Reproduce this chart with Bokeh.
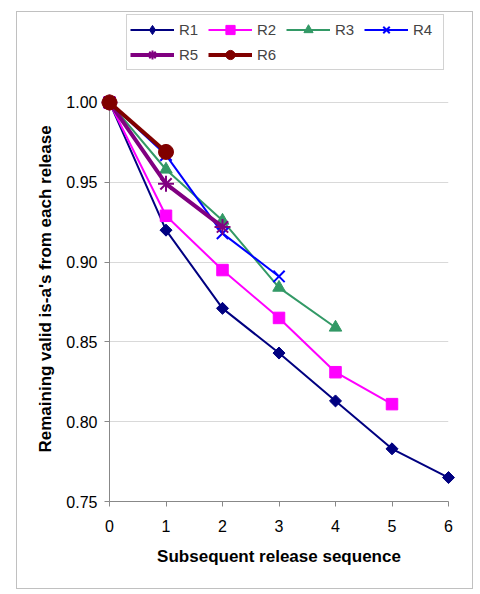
from bokeh.plotting import figure
from bokeh.layouts import column
from bokeh.models import Range1d, FixedTicker, Legend, LegendItem, NumeralTickFormatter, Title
from bokeh.embed import file_html
from bokeh.resources import INLINE
import math

# ---- data ----
seq = [0, 1, 2, 3, 4, 5, 6]
names = ["R1", "R2", "R3", "R4", "R5", "R6"]
r1 = [1.000, 0.920, 0.871, 0.843, 0.813, 0.783, 0.765]
r2 = [1.000, 0.929, 0.895, 0.865, 0.831, 0.811]
r3 = [1.000, 0.958, 0.926, 0.884, 0.859]
r4 = [1.000, 0.967, 0.918, 0.891]
r5 = [1.000, 0.949, 0.922]
r6 = [1.000, 0.969]
y_ticks = [0.75, 0.80, 0.85, 0.90, 0.95, 1.00]
x_title = "Subsequent release sequence"
y_title = "Remaining valid is-a's from each release"

series = [r1, r2, r3, r4, r5, r6]
colors = ["#000080", "#FF00FF", "#339966", "#0000FF", "#800080", "#800000"]
markers = ["square", "square", "triangle", "x", "asterisk", "circle"]
legend_markers = ["diamond", "square", "triangle", "x", "asterisk", "circle"]
angles = [math.pi / 4, 0, 0, 0, 0, 0]
msizes = [8.5, 11.5, 12.5, 16, 16, 15]
lwidths = [2, 2, 2, 2, 4, 4]

FONT = "Liberation Sans"

p = figure(width=455, height=576, output_backend="svg", toolbar_location=None,
           x_range=Range1d(0, 6), y_range=Range1d(0.75, 1.0551),
           min_border_left=92, min_border_right=24, min_border_top=2, min_border_bottom=87)
p.outline_line_color = None
p.background_fill_color = "white"
p.border_fill_color = "white"

p.xgrid.visible = False
p.ygrid.grid_line_color = "#d9d9d9"
p.ygrid.grid_line_width = 1

for ax in (p.xaxis[0], p.yaxis[0]):
    ax.axis_line_color = "#888888"
    ax.major_tick_line_color = "#888888"
    ax.minor_tick_line_color = None
    ax.major_tick_in = 0
    ax.major_tick_out = 5
    ax.major_label_text_font = FONT
    ax.major_label_text_font_size = "16px"
    ax.major_label_text_color = "black"
    ax.axis_label_text_font = FONT
    ax.axis_label_text_font_size = "17px"
    ax.axis_label_text_font_style = "bold"
    ax.axis_label_text_color = "black"

p.yaxis.ticker = FixedTicker(ticks=y_ticks)
p.yaxis.formatter = NumeralTickFormatter(format="0.00")
p.yaxis.bounds = (0.75, 1.0)
p.yaxis.major_label_standoff = 7

p.xaxis.ticker = FixedTicker(ticks=seq)
p.xaxis.major_label_standoff = 13
p.xaxis.axis_label_standoff = 12
p.xaxis.axis_label = x_title

# y-axis title, placed along the 0.75..1.00 span
p.add_layout(Title(text=y_title, align="left", offset=49, vertical_align="bottom",
                   standoff=18, text_font=FONT, text_font_size="17px",
                   text_font_style="bold", text_color="black"), "left")

items = []
for name, ys, c, m, lm, a, ms, lw in zip(names, series, colors, markers, legend_markers,
                                         angles, msizes, lwidths):
    xs = seq[:len(ys)]
    mlw = 2 if m in ("x", "asterisk") else 1
    lr = p.line(xs, ys, line_color=c, line_width=lw, level="overlay")
    mr = p.scatter(xs, ys, marker=m, size=ms, angle=a, fill_color=c, line_color=c,
                   line_width=mlw, level="overlay")
    if lm != m:
        # legend-only marker renderer (not drawn in the plot)
        mr = p.scatter([float("nan")], [float("nan")], marker=lm, size=ms,
                       fill_color=c, line_color=c, line_width=mlw)
    items.append(LegendItem(label=name, renderers=[lr, mr]))

legend = Legend(items=items, location=(17, 431), orientation="horizontal", ncols=4,
                glyph_width=44, glyph_height=23, label_height=23, label_width=27,
                label_standoff=5, spacing=2, padding=3, margin=0,
                label_text_font=FONT, label_text_font_size="15px",
                border_line_color="#a6a6a6", border_line_width=1,
                background_fill_color="white", background_fill_alpha=1)
p.add_layout(legend)

layout = column(p, margin=(11, 0, 0, 16), styles={"border": "1px solid #c0c0c0"})

open("out.html", "w").write(file_html(layout, INLINE))
